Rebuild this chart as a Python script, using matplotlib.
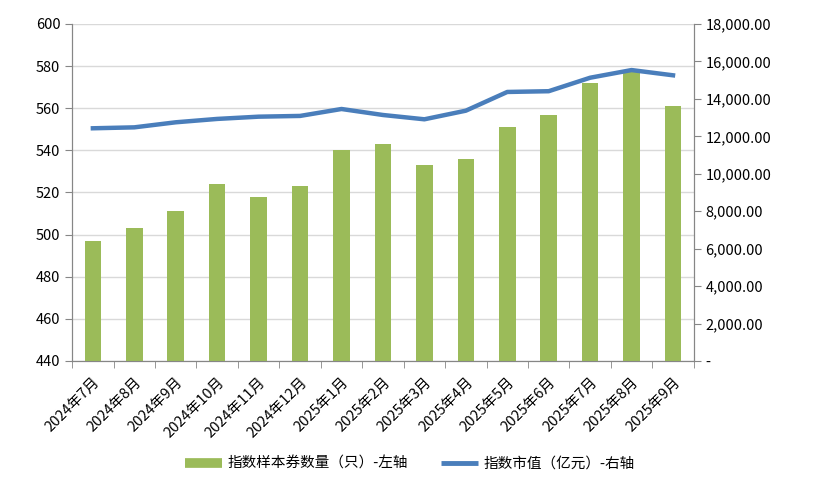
import matplotlib
matplotlib.use("Agg")
import matplotlib.pyplot as plt
import matplotlib.ticker as mticker
from matplotlib.lines import Line2D
import numpy as np

plt.rcParams["font.family"] = ["Noto Sans CJK SC", "DejaVu Sans"]

months = ["2024年7月", "2024年8月", "2024年9月", "2024年10月", "2024年11月",
          "2024年12月", "2025年1月", "2025年2月", "2025年3月", "2025年4月",
          "2025年5月", "2025年6月", "2025年7月", "2025年8月", "2025年9月"]
bond_count = [497, 503, 511, 524, 518, 523, 540, 543, 533, 536,
              551, 557, 572, 578, 561]
market_value = [12430, 12480, 12750, 12930, 13050, 13090, 13460, 13140,
                12910, 13370, 14370, 14410, 15130, 15540, 15260]

BAR_COLOR = "#9BBB59"
LINE_COLOR = "#4A7EBB"
SPINE_COLOR = "#868686"
GRID_COLOR = "#D9D9D9"

fig = plt.figure(figsize=(8.2, 5.0), dpi=100)
ax = fig.add_axes([0.088, 0.278, 0.758, 0.674])
ax2 = ax.twinx()

x = np.arange(len(months))
ax.bar(x, bond_count, width=0.4, color=BAR_COLOR, zorder=3,
       label="指数样本券数量（只）-左轴")
ax.set_ylim(440, 600)
ax.set_xlim(-0.5, len(months) - 0.5)
ax.yaxis.set_major_locator(mticker.MultipleLocator(20))
ax.grid(axis="y", color=GRID_COLOR, linewidth=1.0, zorder=0)
ax.set_axisbelow(True)

ax2.plot(x, market_value, color=LINE_COLOR, linewidth=3.2, zorder=4,
         label="指数市值（亿元）-右轴")
ax2.set_ylim(0, 18000)
ax2.yaxis.set_major_locator(mticker.MultipleLocator(2000))
ax2.yaxis.set_major_formatter(
    mticker.FuncFormatter(lambda v, p: "-" if v == 0 else f"{v:,.2f}"))

ax.set_xticks(x)
ax.set_xticklabels(months, rotation=45, ha="right", rotation_mode="anchor",
                   fontsize=10.5)
ax.set_xticks(np.arange(-0.5, len(months)), minor=True)
ax.tick_params(axis="x", which="major", length=0, pad=10)
ax.tick_params(axis="x", which="minor", length=5, color=SPINE_COLOR)
ax.tick_params(axis="y", length=5, color=SPINE_COLOR, labelsize=10.5)
ax2.tick_params(axis="y", length=5, color=SPINE_COLOR, labelsize=10.5)

for a in (ax, ax2):
    a.spines["top"].set_visible(False)
    for s in ("left", "right", "bottom"):
        a.spines[s].set_color(SPINE_COLOR)

_, l1 = ax.get_legend_handles_labels()
_, l2 = ax2.get_legend_handles_labels()
handles = [Line2D([], [], color=BAR_COLOR, linewidth=7, solid_capstyle="butt"),
           Line2D([], [], color=LINE_COLOR, linewidth=3.5, solid_capstyle="butt")]
fig.legend(handles, l1 + l2, loc="center", bbox_to_anchor=(0.5, 0.072),
           ncol=2, frameon=False, fontsize=10.5, handlelength=2.5,
           columnspacing=2.3, handletextpad=0.4)

fig.savefig("out.png", dpi=100, facecolor="white")
